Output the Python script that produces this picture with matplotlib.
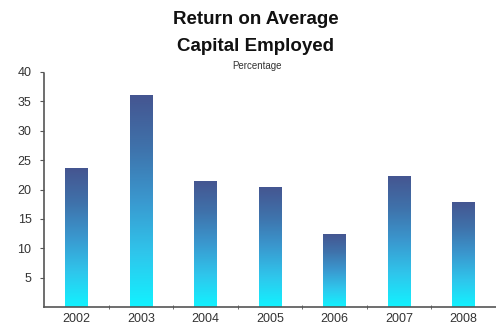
import matplotlib
matplotlib.use("Agg")
import matplotlib.pyplot as plt
import numpy as np
from matplotlib.colors import LinearSegmentedColormap
from matplotlib.patches import Rectangle

years = ["2002", "2003", "2004", "2005", "2006", "2007", "2008"]
returns = [23.6, 36.1, 21.5, 20.5, 12.5, 22.3, 17.9]
y_ticks = [5, 10, 15, 20, 25, 30, 35, 40]

plt.rcParams["font.family"] = ["Liberation Sans", "DejaVu Sans"]

# cyan at the base fading into slate blue at the top of every bar
fade = LinearSegmentedColormap.from_list(
    "fade", ["#12f2ff", "#2fc6ec", "#3a98cf", "#3f72ab", "#455590"])

fig = plt.figure(figsize=(4.96, 3.27), dpi=100)
ax = fig.add_axes([44 / 496, 20 / 327, 452 / 496, 235 / 327])

width = 0.35
grad = np.linspace(0, 1, 256).reshape(-1, 1)
for i, val in enumerate(returns):
    left = i - width / 2
    im = ax.imshow(grad, cmap=fade, origin="lower", aspect="auto",
                   extent=(left, left + width, 0, val), zorder=2)
    clip = Rectangle((left, 0), width, val, transform=ax.transData)
    im.set_clip_path(clip)

ax.set_xlim(-0.5, len(years) - 0.5)
ax.set_ylim(0, 40)

ax.set_xticks(range(len(years)))
ax.set_xticklabels(years, fontsize=9, color="#333333")
ax.set_xticks(np.arange(0.5, len(years) - 1, 1), minor=True)
ax.tick_params(axis="x", which="major", length=0, pad=4)
ax.tick_params(axis="x", which="minor", length=3, direction="inout",
               color="#555555")

ax.set_yticks(y_ticks)
ax.set_yticklabels([str(v) for v in y_ticks], fontsize=9, color="#333333")
ax.tick_params(axis="y", length=3, color="#555555", pad=6)

for side in ["top", "right"]:
    ax.spines[side].set_visible(False)
for side in ["left", "bottom"]:
    ax.spines[side].set_color("#555555")
    ax.spines[side].set_linewidth(1.2)
    ax.spines[side].set_linestyle((0, (2, 1)))

fig.text(0.515, 0.940, "Return on Average", ha="center", va="center",
         fontsize=13.5, fontweight="bold", color="#111111")
fig.text(0.515, 0.859, "Capital Employed", ha="center", va="center",
         fontsize=13.5, fontweight="bold", color="#111111")
fig.text(0.518, 0.798, "Percentage", ha="center", va="center",
         fontsize=7, color="#333333")

fig.savefig("out.png", dpi=100)
